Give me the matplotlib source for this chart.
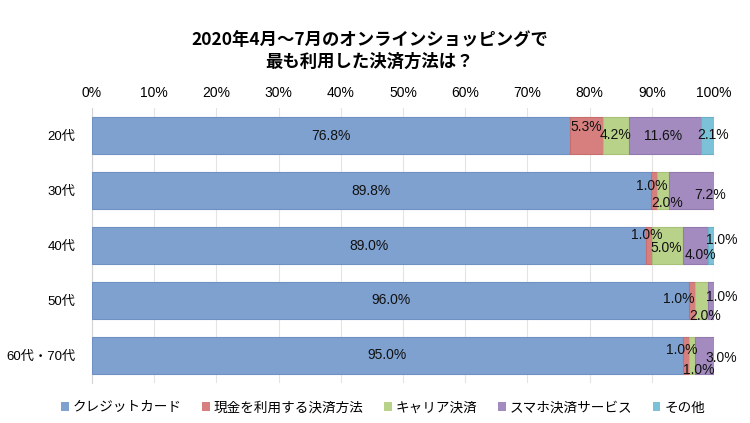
import numpy as np
import matplotlib
matplotlib.use('Agg')
import matplotlib.pyplot as plt
from matplotlib.patches import Patch

plt.rcParams['font.family'] = ['Liberation Sans', 'Noto Sans CJK JP']

ages = ['20代', '30代', '40代', '50代', '60代・70代']
series = ['クレジットカード', '現金を利用する決済方法', 'キャリア決済', 'スマホ決済サービス', 'その他']
credit = [76.8, 89.8, 89.0, 96.0, 95.0]
cash = [5.3, 1.0, 1.0, 1.0, 1.0]
carrier = [4.2, 2.0, 5.0, 2.0, 1.0]
smartpay = [11.6, 7.2, 4.0, 1.0, 3.0]
other = [2.1, 0.0, 1.0, 0.0, 0.0]

colors = ['#7fa1d0', '#d67f7e', '#b9d28a', '#a38bbf', '#7bc2d8']
edges = ['#6e90c2', '#c56e6d', '#a8c179', '#927aae', '#6ab1c7']

# label nudges in pixels (dx, dy) per row/series, None = no label
nudges = [
    [(0, 0), (0, 9), (0, 1), (-2, 0), (6, 1)],
    [(0, 0), (-2, 5), (4, -12), (19, -4), None],
    [(0, 0), (-2, 11), (-1, -2), (5, -9), (11, 6)],
    [(0, 0), (-13, 1), (4, -16), (11, 3), None],
    [(0, 0), (-4, 5), (7, -15), (17, -3), None],
]

fig = plt.figure(figsize=(7.5, 4.23), dpi=100)
ax = fig.add_axes([0.1227, 0.0946, 0.8293, 0.65])

data = np.array([credit, cash, carrier, smartpay, other])
y = np.arange(len(ages))
left = np.zeros(len(ages))
for k in range(len(series)):
    ax.barh(y, data[k], left=left, height=0.67, color=colors[k],
            edgecolor=edges[k], linewidth=0.8, zorder=3, label=series[k])
    for i in range(len(ages)):
        nd = nudges[i][k]
        if nd is None:
            continue
        ax.annotate(f'{data[k][i]:.1f}%', (left[i] + data[k][i] / 2, y[i]),
                    xytext=nd, textcoords='offset pixels',
                    ha='center', va='center', fontsize=10, color='#111111', zorder=5)
    left += data[k]

ax.set_xlim(0, 100)
ax.set_ylim(len(ages) - 0.5, -0.5)
ax.set_xticks(np.arange(0, 101, 10))
ax.set_xticklabels([f'{v}%' for v in range(0, 101, 10)], fontsize=10)
ax.xaxis.tick_top()
ax.tick_params(axis='x', length=0, pad=6)
ax.set_yticks(y)
ax.set_yticklabels(ages, fontsize=9.5)
ax.tick_params(axis='y', length=0, pad=12)
ax.grid(axis='x', color='#e4e4e4', linewidth=0.8, zorder=0)
for s in ['top', 'right', 'bottom']:
    ax.spines[s].set_visible(False)
ax.spines['left'].set_color('#d4d4d4')

fig.text(0.493, 0.88, '2020年4月～7月のオンラインショッピングで\n最も利用した決済方法は？',
         ha='center', va='center', fontsize=12.5, fontweight='bold',
         family=['Noto Sans CJK JP'], linespacing=1.25)

handles = [Patch(facecolor=c, edgecolor='none') for c in colors]
fig.legend(handles, series, loc='center', bbox_to_anchor=(0.511, 0.037), ncol=5,
           frameon=False, prop={'family': 'Noto Sans CJK JP', 'size': 9.8},
           handlelength=0.55, handleheight=0.55, handletextpad=0.3, columnspacing=1.5)

fig.savefig('out.png', dpi=100)
